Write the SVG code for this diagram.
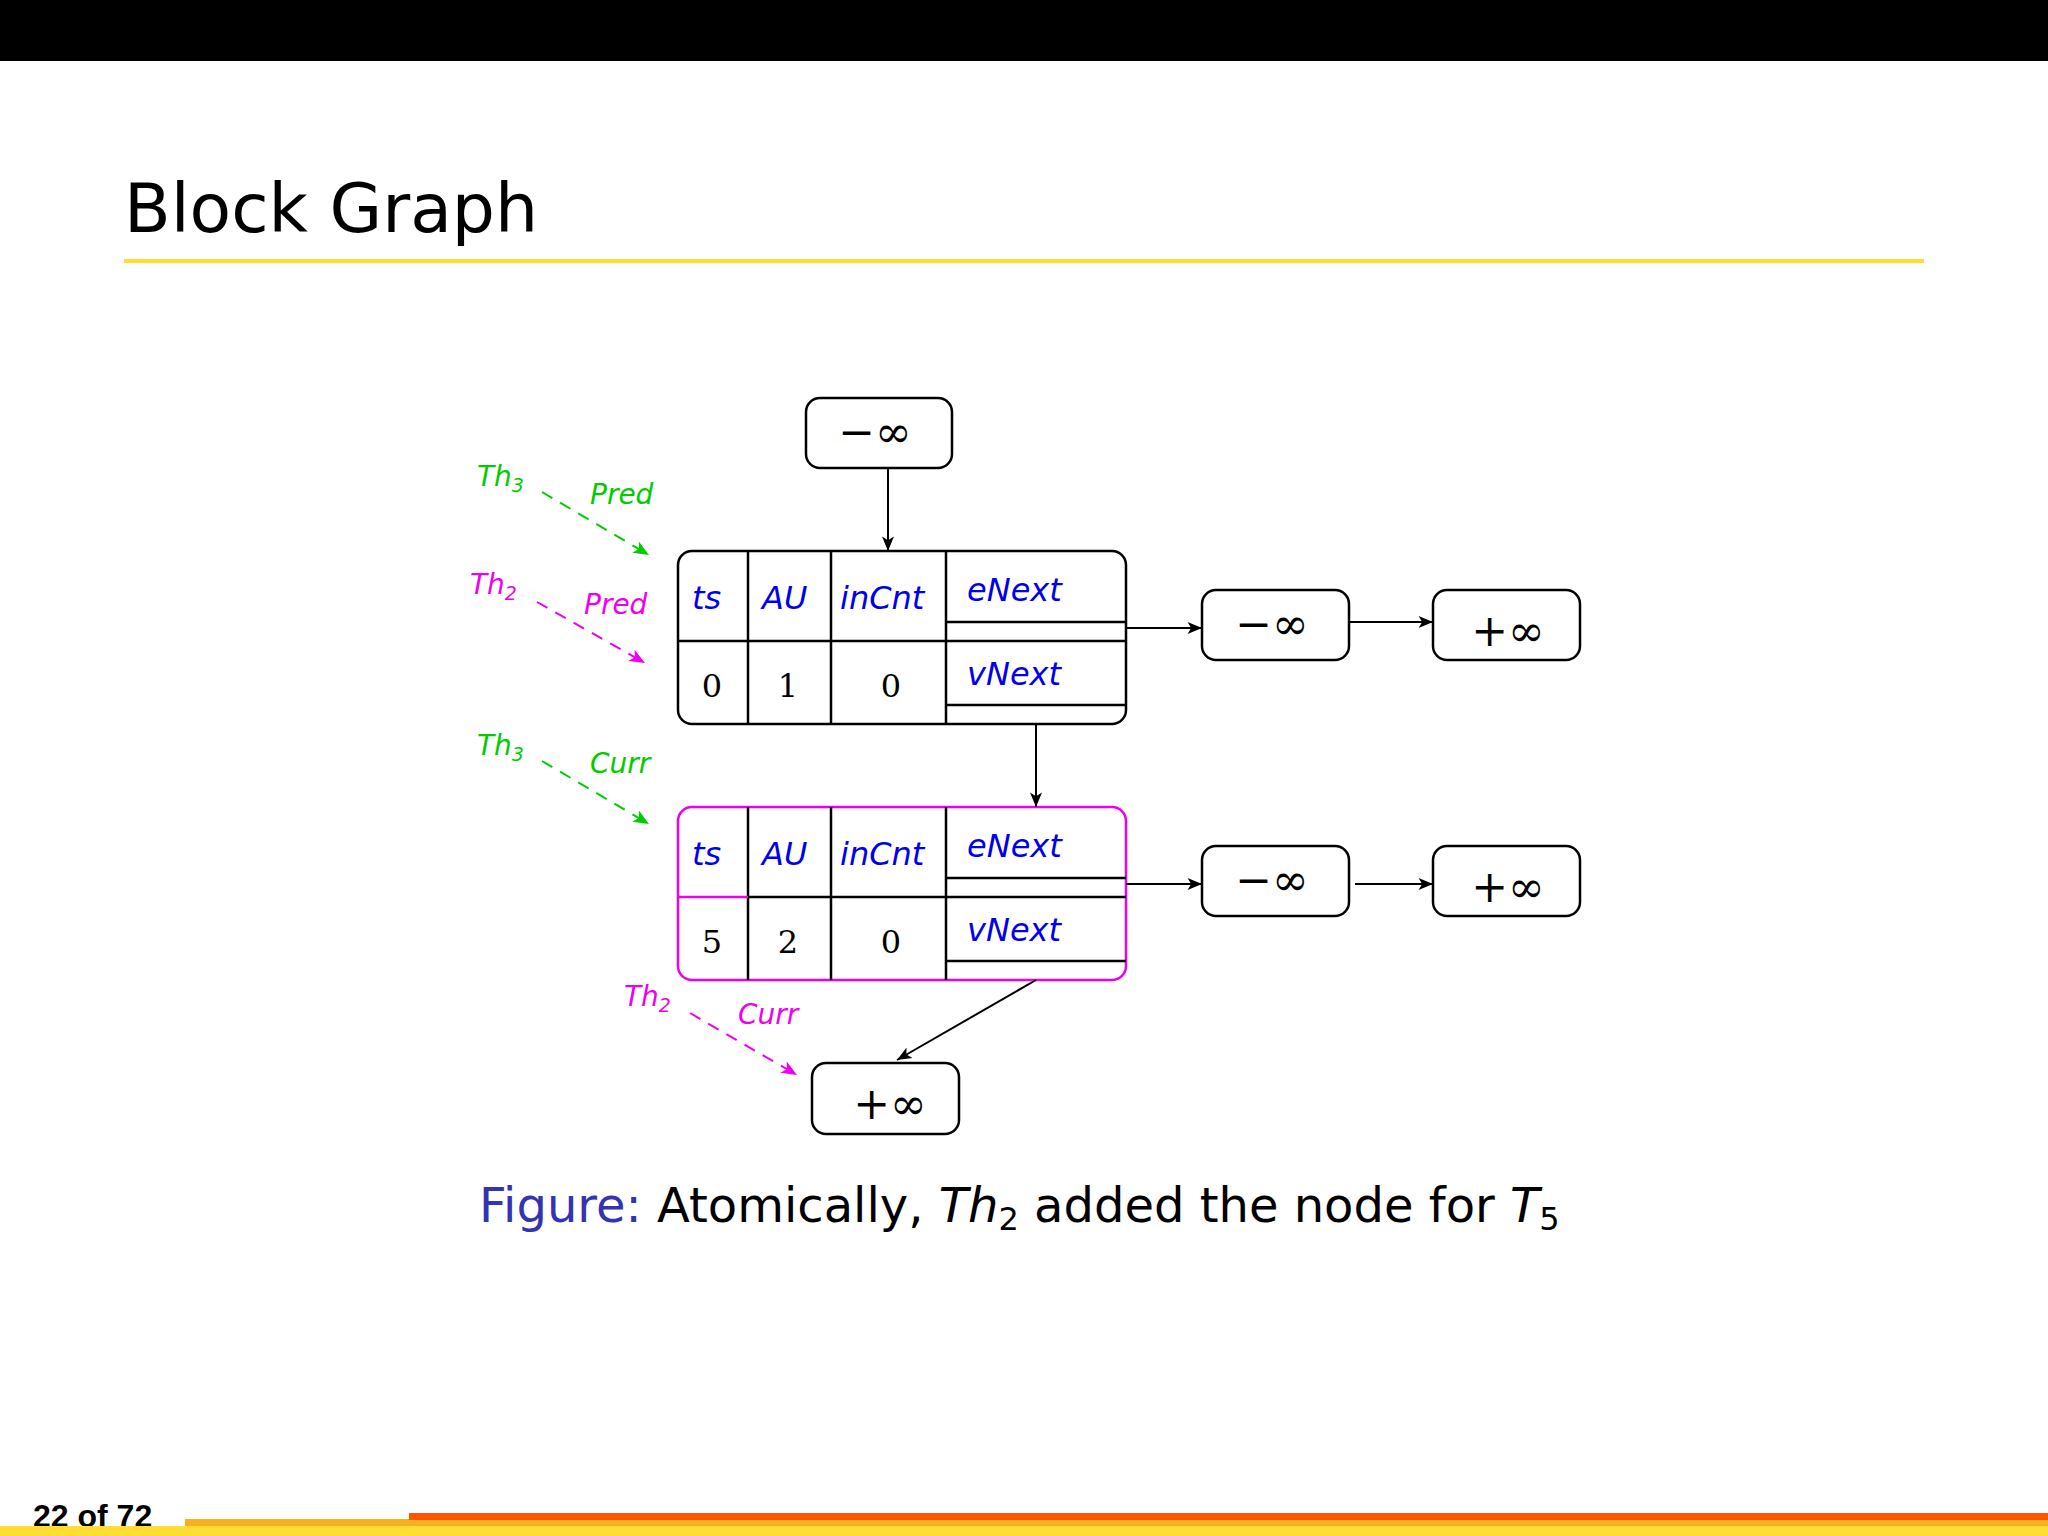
<svg xmlns="http://www.w3.org/2000/svg" width="2048" height="1536" viewBox="0 0 2048 1536">
<style>
.box{fill:none;stroke:#000;stroke-width:2.5}
.ln{stroke:#000;stroke-width:2.5;fill:none}
.mg{stroke:#ee00ee}
.hd{font-family:"DejaVu Sans","Liberation Sans",sans-serif;font-style:italic;font-size:32px;fill:#0000ee}
.num{font-family:"DejaVu Serif","Liberation Serif",serif;font-size:32px;fill:#000;text-anchor:middle}
.inf{font-family:"DejaVu Serif","Liberation Serif",serif;font-size:44px;fill:#000;text-anchor:middle}
.lb{font-family:"DejaVu Sans","Liberation Sans",sans-serif;font-style:italic;font-size:28px}
.g{fill:#00cc00}.m{fill:#ee00ee}
.dg{stroke:#00cc00;stroke-width:2;stroke-dasharray:12 9;fill:none}
.dm{stroke:#ee00ee;stroke-width:2;stroke-dasharray:12 9;fill:none}
.ar{stroke:#000;stroke-width:2;fill:none}
</style>
<defs>
<marker id="ab" viewBox="0 0 12 10" refX="12" refY="5" markerWidth="16" markerHeight="12" markerUnits="userSpaceOnUse" orient="auto"><path d="M0,0 L12,5 L0,10 L3,5 z" fill="#000"/></marker>
<marker id="ag" viewBox="0 0 12 10" refX="12" refY="5" markerWidth="18" markerHeight="13" markerUnits="userSpaceOnUse" orient="auto"><path d="M0,0 L12,5 L0,10 L3,5 z" fill="#00cc00"/></marker>
<marker id="am" viewBox="0 0 12 10" refX="12" refY="5" markerWidth="18" markerHeight="13" markerUnits="userSpaceOnUse" orient="auto"><path d="M0,0 L12,5 L0,10 L3,5 z" fill="#ee00ee"/></marker>
</defs>
<rect width="2048" height="1536" fill="#fff"/>
<rect width="2048" height="61" fill="#000"/>
<text x="124" y="232" font-family="DejaVu Sans, Liberation Sans, sans-serif" font-size="68" fill="#000">Block Graph</text>
<rect x="124" y="259" width="1800" height="4" fill="#ffdd33"/>

<g id="top-minf"><rect class="box" x="806" y="398" width="146" height="70" rx="14"/><text class="inf" x="875" y="447">−∞</text></g>

<g id="node1">
<rect class="box" x="678" y="551" width="448" height="173" rx="14"/>
<path class="ln" d="M748,551V724M831,551V724M946,551V724M678,641H1126M946,622H1126M946,705H1126"/>
<text class="hd" x="692" y="609">ts</text><text class="hd" x="762" y="609">AU</text><text class="hd" x="840" y="609">inCnt</text>
<text class="hd" x="967" y="601">eNext</text><text class="hd" x="967" y="685">vNext</text>
<text class="num" x="712" y="697">0</text><text class="num" x="788" y="697">1</text><text class="num" x="891" y="697">0</text>
</g>
<g id="node2">
<rect class="box mg" x="678" y="807" width="448" height="173" rx="14"/>
<path class="ln" d="M748,807V980M831,807V980M946,807V980M946,878H1126M946,961H1126"/>
<path class="ln mg" d="M678,897H748"/><path class="ln" d="M748,897H1126"/>
<text class="hd" x="692" y="865">ts</text><text class="hd" x="762" y="865">AU</text><text class="hd" x="840" y="865">inCnt</text>
<text class="hd" x="967" y="857">eNext</text><text class="hd" x="967" y="941">vNext</text>
<text class="num" x="712" y="953">5</text><text class="num" x="788" y="953">2</text><text class="num" x="891" y="953">0</text>
</g>
<g id="r1a"><rect class="box" x="1202" y="590" width="147" height="70" rx="14"/><text class="inf" x="1272" y="639">−∞</text></g>
<g id="r1b"><rect class="box" x="1433" y="590" width="147" height="70" rx="14"/><text class="inf" x="1508" y="646">+∞</text></g>
<g id="r2a"><rect class="box" x="1202" y="846" width="147" height="70" rx="14"/><text class="inf" x="1272" y="895">−∞</text></g>
<g id="r2b"><rect class="box" x="1433" y="846" width="147" height="70" rx="14"/><text class="inf" x="1508" y="902">+∞</text></g>
<g id="bot-pinf"><rect class="box" x="812" y="1063" width="147" height="71" rx="14"/><text class="inf" x="890" y="1119">+∞</text></g>

<g id="connectors">
<path class="ar" d="M888,468V551" marker-end="url(#ab)"/>
<path class="ar" d="M1126,628H1202" marker-end="url(#ab)"/>
<path class="ar" d="M1349,622H1433" marker-end="url(#ab)"/>
<path class="ar" d="M1036,724V807" marker-end="url(#ab)"/>
<path class="ar" d="M1126,884H1202" marker-end="url(#ab)"/>
<path class="ar" d="M1355,884H1433" marker-end="url(#ab)"/>
<path class="ar" d="M1036,980L897,1060" marker-end="url(#ab)"/>
<path class="dg" d="M542,492L649,555" marker-end="url(#ag)"/>
<path class="dm" d="M537,602L645,663" marker-end="url(#am)"/>
<path class="dg" d="M542,761L649,824" marker-end="url(#ag)"/>
<path class="dm" d="M690,1013L797,1075" marker-end="url(#am)"/>
</g>
<g id="labels">
<text class="lb g" x="477" y="486">Th<tspan font-size="19" dy="6">3</tspan></text>
<text class="lb g" x="590" y="504">Pred</text>
<text class="lb m" x="470" y="594">Th<tspan font-size="19" dy="6">2</tspan></text>
<text class="lb m" x="584" y="614">Pred</text>
<text class="lb g" x="477" y="755">Th<tspan font-size="19" dy="6">3</tspan></text>
<text class="lb g" x="590" y="773">Curr</text>
<text class="lb m" x="624" y="1006">Th<tspan font-size="19" dy="6">2</tspan></text>
<text class="lb m" x="738" y="1024">Curr</text>
</g>
<text x="479" y="1222" font-family="DejaVu Sans, Liberation Sans, sans-serif" font-size="48" fill="#000"><tspan fill="#3333b3">Figure:</tspan> Atomically, <tspan font-style="italic">Th</tspan><tspan font-size="32" dy="8">2</tspan><tspan dy="-8"> added the node for </tspan><tspan font-style="italic">T</tspan><tspan font-size="32" dy="8">5</tspan></text>
<text x="33" y="1527" font-family="Liberation Sans, sans-serif" font-weight="bold" font-size="32" fill="#000">22 of 72</text>
<rect x="0" y="1526" width="2048" height="10" fill="#ffdd33"/>
<rect x="185" y="1519" width="1863" height="7" fill="#f8b020"/>
<rect x="409" y="1513" width="1639" height="7" fill="#ff5500"/>
</svg>
